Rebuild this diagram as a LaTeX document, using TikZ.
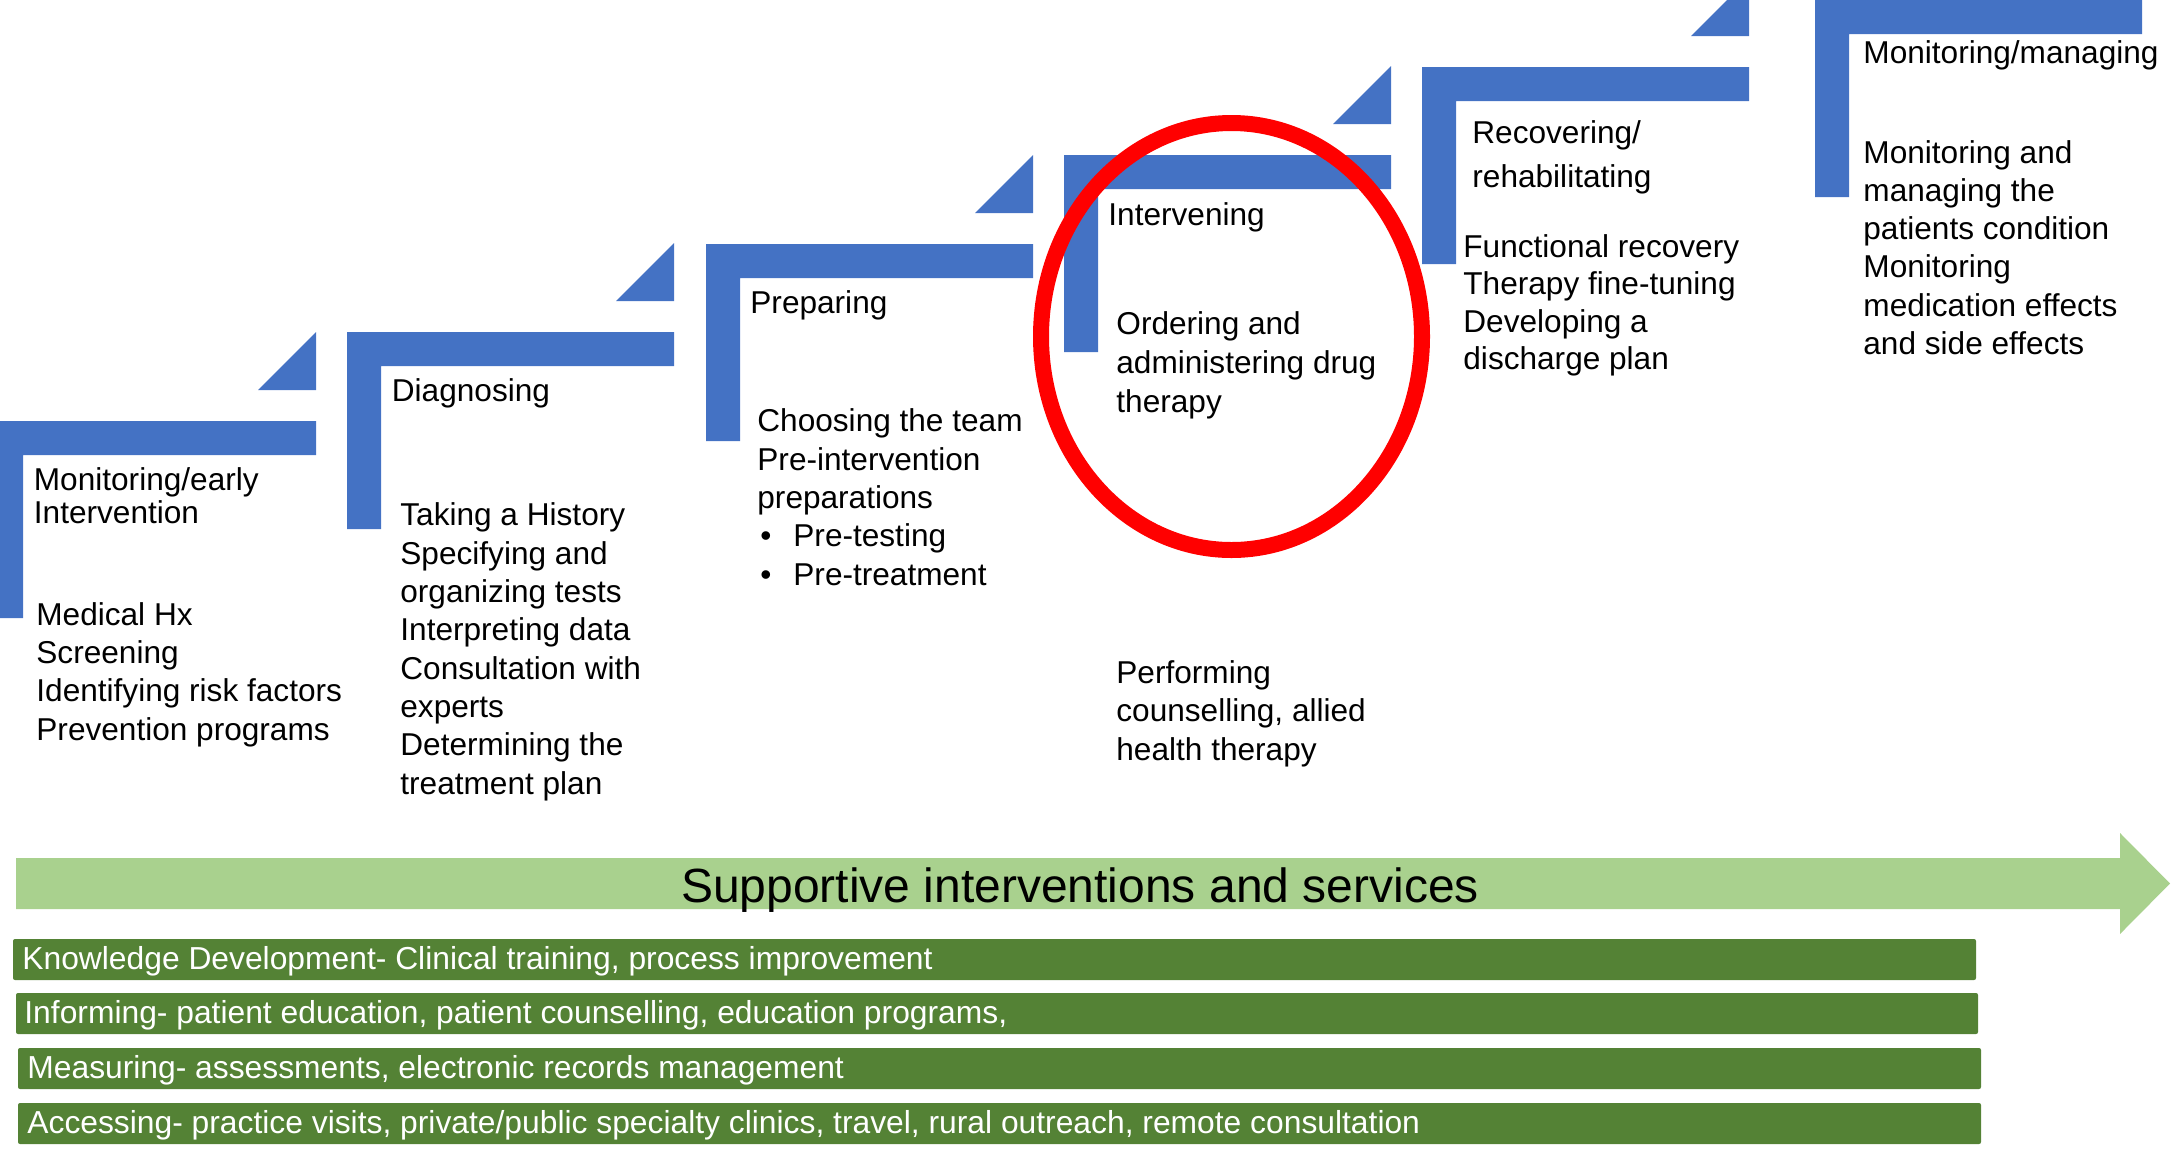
\documentclass[tikz,border=0pt]{standalone}
\usepackage{fontspec}
\setmainfont{Liberation Sans}
\definecolor{stepblue}{HTML}{4472C4}
\definecolor{arrowgreen}{HTML}{A9D18E}
\definecolor{bargreen}{HTML}{548235}
\definecolor{ringred}{HTML}{FF0000}

% L-shaped stair step: left x, top y (pixel grid, y grows downwards)
\newcommand\stepshape[2]{%
  \fill[stepblue] (#1,#2) -- ++(327,0) -- ++(0,34) -- ++(-293,0)
    -- ++(0,163) -- ++(-34,0) -- cycle;}
% small right triangle above the end of a step: right x, top y of that step
\newcommand\steptip[2]{%
  \fill[stepblue] (#1,#2-89) -- (#1,#2-31) -- (#1-58,#2-31) -- cycle;}

% text blocks are placed by the baseline of their last line
\tikzset{
  txt/.style={anchor=base west, inner sep=0pt, align=left,
    font=\fontsize{15.8pt}{19.15pt}\selectfont},
  bartxt/.style={anchor=base west, inner sep=0pt, text=white,
    font=\fontsize{15.9pt}{19pt}\selectfont},
  servicebar/.style={fill=bargreen, rounded corners=1pt},
}

\begin{document}
\begin{tikzpicture}[x=0.5pt,y=-0.5pt]
\useasboundingbox (0,0) rectangle (2177,1152);
\clip (0,0) rectangle (2177,1152);

% stair steps
\stepshape{-11}{421}
\stepshape{347}{332}
\stepshape{706}{244}
\stepshape{1064}{155}
\stepshape{1422}{67}
\stepshape{1815}{0}
\steptip{316}{421}
\steptip{674}{332}
\steptip{1033}{244}
\steptip{1391}{155}
\steptip{1749}{67}

% step 1
\node[txt, font=\fontsize{15.8pt}{16.5pt}\selectfont] (h1) at (33.5,523) {Monitoring/early\\Intervention};
\node[txt] (b1) at (36,740) {Medical Hx\\Screening\\Identifying risk factors\\Prevention programs};
% step 2
\node[txt] (h2) at (391.5,401) {Diagnosing};
\node[txt] (b2) at (400,794) {Taking a History\\Specifying and\\organizing tests\\Interpreting data\\Consultation with\\experts\\Determining the\\treatment plan};
% step 3
\node[txt] (h3) at (750,313) {Preparing};
\node[txt] (b3) at (757,585) {Choosing the team\\Pre-intervention\\preparations\\
  \makebox[18pt][l]{\hspace{1.5pt}•}Pre-testing\\\makebox[18pt][l]{\hspace{1.5pt}•}Pre-treatment};
% step 4
\node[txt] (h4) at (1108,225) {Intervening};
\node[txt, font=\fontsize{15.8pt}{19.3pt}\selectfont] (b4) at (1116,412) {Ordering and\\administering drug\\therapy};
\node[txt] (b4b) at (1116,760) {Performing\\counselling, allied\\health therapy};
% step 5
\node[txt, font=\fontsize{15.8pt}{22pt}\selectfont] (h5) at (1472,187) {Recovering/\\rehabilitating};
\node[txt, font=\fontsize{15.8pt}{18.75pt}\selectfont] (b5) at (1463,369.5) {Functional recovery\\Therapy fine-tuning\\Developing a\\discharge plan};
% step 6
\node[txt] (h6) at (1863,63) {Monitoring/managing};
\node[txt] (b6) at (1863,354.5) {Monitoring and\\managing the\\patients condition\\Monitoring\\medication effects\\and side effects};

% highlight ring
\draw[ringred, line width=8pt] (1231.5,336.5) ellipse [x radius=190.5, y radius=213.5];

% supportive arrow
\fill[arrowgreen] (16,858) -- (2120,858) -- (2120,833) -- (2170,883.5)
  -- (2120,934) -- (2120,909) -- (16,909) -- cycle;
\node[anchor=base, inner sep=0pt, font=\fontsize{24pt}{28pt}\selectfont] (sup) at (1080,902)
  {Supportive interventions and services};

% service bars
\fill[servicebar] (13,939) rectangle (1976,980);
\fill[servicebar] (16,993) rectangle (1978,1034);
\fill[servicebar] (18,1048) rectangle (1981,1089);
\fill[servicebar] (18,1103) rectangle (1981,1144);
\node[bartxt] (s1) at (22,969) {Knowledge Development- Clinical training, process improvement};
\node[bartxt] (s2) at (24,1023) {Informing- patient education, patient counselling, education programs,};
\node[bartxt] (s3) at (27,1078) {Measuring- assessments, electronic records management};
\node[bartxt] (s4) at (27,1133) {Accessing- practice visits, private/public specialty clinics, travel, rural outreach, remote consultation};
\end{tikzpicture}
\end{document}
